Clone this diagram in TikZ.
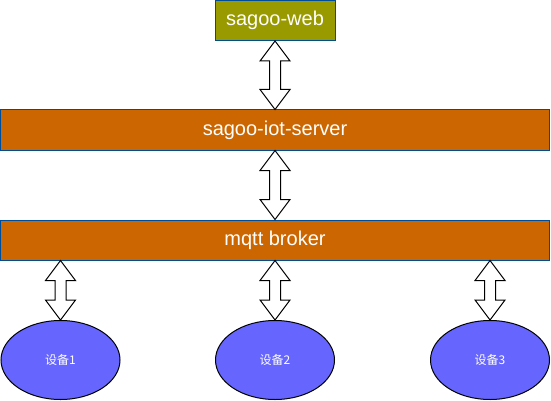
\documentclass[tikz,border=0pt]{standalone}
\usepackage{fontspec}
\setmainfont{Liberation Sans}
\newfontfamily\cjk{Noto Sans CJK SC}
\usetikzlibrary{positioning,calc,shapes.geometric}
\definecolor{webgreen}{HTML}{999900}
\definecolor{barorange}{HTML}{CC6600}
\definecolor{edgeblue}{HTML}{004C99}
\definecolor{devblue}{HTML}{6666FF}
\tikzset{
  layer/.style={draw=edgeblue, line width=1pt, fill=webgreen, minimum width=120pt,
    minimum height=40pt, inner sep=0pt, text=white, font=\fontsize{20}{24}\selectfont},
  bar/.style={layer, fill=barorange, minimum width=549pt},
  device/.style={ellipse, draw=black, line width=1pt, fill=devblue, minimum width=119pt,
    minimum height=79pt, inner sep=0pt, text=white, font=\cjk\fontsize{12}{14}\selectfont},
}
% hollow two-way arrow from the bottom of #1 to the top of #2
\newcommand{\dblarrow}[2]{%
  \draw[line width=1pt, fill=white] let \p1=(#2.north), \p2=(#1.south) in
    (\x1,\y2) -- (\x1+15pt,\y2-20pt) -- (\x1+5.5pt,\y2-20pt) -- (\x1+5.5pt,\y1+20pt)
    -- (\x1+15pt,\y1+20pt) -- (\x1,\y1) -- (\x1-15pt,\y1+20pt) -- (\x1-5.5pt,\y1+20pt)
    -- (\x1-5.5pt,\y2-20pt) -- (\x1-15pt,\y2-20pt) -- cycle;}
\begin{document}
\begin{tikzpicture}[x=1pt,y=-1pt]
  \useasboundingbox (0,0) rectangle (551,401);
  \node[layer] (web) at (275,20.5) {sagoo-web};
  \node[bar] (server) at (275,130) {sagoo-iot-server};
  \node[bar] (broker) at (275,240) {mqtt broker};
  \foreach \i/\x in {1/60.5,2/275,3/490}
    \node[device] (dev\i) at (\x,360) {设备\i};
  \dblarrow{web}{server}
  \dblarrow{server}{broker}
  \foreach \i in {1,2,3}
    \dblarrow{broker}{dev\i};
\end{tikzpicture}
\end{document}
